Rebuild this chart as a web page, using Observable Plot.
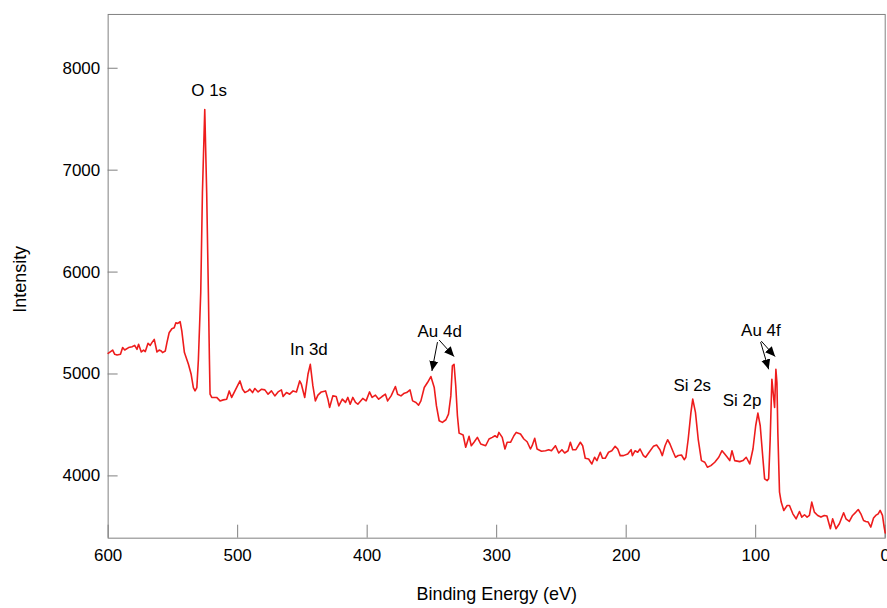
<!DOCTYPE html>
<html><head><meta charset="utf-8">
<script src="https://cdn.jsdelivr.net/npm/d3@7"></script>
<script src="https://cdn.jsdelivr.net/npm/@observablehq/plot@0.6"></script>
<style>html,body{margin:0;padding:0;background:#fff;overflow:hidden;}</style>
</head><body><div id="chart"></div>
<script>
const energy = [600,596.5,594.9,593.1,590.5,588.8,587.2,584.2,581.5,579.5,577.7,576.5,574.4,572.6,571.3,569.2,567.5,566.2,564.4,562.3,560.6,559.0,558.0,555.9,554.6,552.9,550.8,549.0,547.7,546.2,544.4,543.1,541.1,538.0,535.9,534.2,532.9,531.5,530.3,528.5,527.2,525.4,523.9,522.6,521.8,521.3,520.0,516.2,513.6,511.1,508.5,506.5,504.6,502.1,498.2,496.2,494.4,491.9,490.6,488.5,486.7,484.2,481.5,479.0,476.5,473.9,471.3,468.8,466.2,464.9,462.3,459.8,457.2,454.6,452.1,450.8,448.2,445.7,443.9,441.9,440.0,438.0,435.4,432.1,430.3,429.0,426.5,423.9,421.9,419.2,416.7,414.9,413.1,411.1,409.0,407.2,403.4,400.8,398.2,396.2,393.6,391.1,388.5,385.9,384.2,381.5,378.2,376.5,373.9,371.3,369.5,366.9,364.9,362.3,360.3,358.5,355.9,353.4,350.8,348.2,346.5,344.4,341.9,339.2,337.2,335.4,334.2,332.9,331.6,330.3,329.0,325.9,323.9,321.3,319.6,317.5,314.9,312.3,308.5,305.9,303.4,301.3,299.6,298.3,295.7,293.6,291.9,289.3,286.7,284.9,281.6,279.0,276.5,273.9,272.6,270.6,268.8,265.4,262.3,259.8,257.7,254.6,252.1,249.6,247.5,244.9,243.1,241.3,238.8,235.4,233.6,231.6,229.0,226.5,224.4,222.6,220.0,218.3,216.2,213.6,211.1,208.5,206.5,204.6,202.1,198.8,196.2,195.2,193.1,191.1,189.3,186.7,185.0,182.3,179.0,176.5,173.9,172.1,170.0,168.0,166.2,163.6,161.9,159.8,157.3,155.2,153.9,152.1,150.0,148.6,146.5,144.4,141.9,139.3,137.3,134.6,131.6,128.5,126.0,123.9,121.9,120.0,118.3,116.2,112.3,109.8,107.3,104.6,102.1,100.0,98.3,96.5,94.4,93.1,91.1,90.0,88.8,87.5,86.5,85.4,84.4,83.6,82.9,81.6,80.3,78.3,75.7,73.9,71.3,68.8,66.2,64.4,62.3,60.3,58.5,56.7,54.7,52.1,49.6,47.0,45.0,42.3,40.6,38.0,35.4,32.1,30.3,27.7,25.2,22.6,20.8,18.8,16.7,15.0,13.1,11.1,9.0,7.3,5.4,3.9,2.1,0.8,0];
const intensity = [5203,5235,5193,5186,5193,5259,5235,5259,5268,5281,5242,5291,5216,5235,5220,5301,5281,5308,5340,5216,5235,5225,5210,5225,5308,5405,5444,5454,5503,5496,5513,5421,5210,5095,4997,4867,4834,4867,5144,5799,6777,7596,6777,5799,5144,4802,4770,4770,4736,4746,4753,4834,4770,4834,4932,4851,4818,4834,4851,4818,4858,4824,4851,4844,4802,4834,4785,4824,4844,4779,4818,4802,4834,4824,4932,4900,4770,4997,5095,4883,4736,4792,4824,4834,4753,4672,4785,4779,4687,4753,4721,4770,4704,4770,4721,4704,4760,4736,4824,4770,4792,4753,4779,4802,4736,4785,4877,4802,4785,4812,4818,4844,4736,4721,4694,4736,4867,4916,4975,4867,4687,4541,4525,4551,4606,4785,5079,5095,4883,4590,4420,4401,4281,4388,4296,4330,4378,4313,4296,4362,4378,4394,4378,4427,4378,4264,4330,4330,4394,4427,4411,4362,4335,4264,4296,4369,4264,4242,4247,4257,4247,4296,4225,4257,4225,4247,4330,4257,4257,4330,4296,4173,4166,4117,4183,4150,4232,4173,4173,4232,4247,4290,4264,4199,4199,4215,4257,4199,4247,4232,4264,4199,4183,4232,4290,4303,4257,4199,4296,4355,4313,4232,4183,4200,4205,4159,4183,4362,4623,4753,4623,4362,4150,4134,4085,4101,4134,4183,4247,4215,4183,4150,4247,4150,4140,4150,4183,4117,4264,4492,4616,4492,4166,3971,3954,3971,4362,4949,4818,4672,5046,4916,4427,3841,3743,3661,3709,3709,3628,3579,3651,3596,3619,3596,3612,3743,3645,3612,3596,3612,3606,3482,3579,3482,3530,3638,3579,3553,3612,3645,3670,3628,3563,3553,3547,3498,3586,3612,3628,3661,3612,3498,3440];
const xTicks = [600, 500, 400, 300, 200, 100, 0];
const yTicks = [4000, 5000, 6000, 7000, 8000];
const peakLabels = ["O 1s", "In 3d", "Au 4d", "Si 2s", "Si 2p", "Au 4f"];
const peakLabelX = [522, 445, 344, 149, 110.5, 96];
const peakLabelY = [7785, 5242, 5418, 4890, 4743, 5428];
const arrowFromX = [345.7, 344.4, 96.2, 95.7];
const arrowFromY = [5313, 5333, 5313, 5323];
const arrowToX = [350.0, 332.9, 90.0, 85.0];
const arrowToY = [5030, 5171, 5046, 5171];
const xLabel = "Binding Energy (eV)";
const yLabel = "Intensity";

const spectrum = energy.map((e, i) => ({energy: e, intensity: intensity[i]}));
const peaks = peakLabels.map((t, i) => ({text: t, x: peakLabelX[i], y: peakLabelY[i]}));
const arrows = arrowFromX.map((x, i) => ({x1: x, y1: arrowFromY[i], x2: arrowToX[i], y2: arrowToY[i]}));

const font = "'Liberation Sans', Arial, Helvetica, sans-serif";
const svg = Plot.plot({
  width: 890, height: 608,
  marginLeft: 108, marginRight: 2.3, marginTop: 14, marginBottom: 68.5,
  style: {fontFamily: font, fontSize: "17px", color: "#000", background: "#fff", overflow: "visible"},
  x: {domain: [600, 0], label: null},
  y: {domain: [3389, 8528], label: null},
  marks: [
    Plot.frame({stroke: "#808080", strokeWidth: 1}),
    Plot.axisX(xTicks, {tickSize: -13, tickPadding: 24, stroke: "#808080", label: null, fontSize: 17, tickFormat: d => String(d)}),
    Plot.axisY(yTicks, {tickSize: -10, tickPadding: 18, stroke: "#808080", label: null, fontSize: 17, tickFormat: d => String(d)}),
    Plot.line(spectrum, {x: "energy", y: "intensity", stroke: "#ee1c1c", strokeWidth: 1.6}),
    Plot.link(arrows, {x1: "x1", y1: "y1", x2: "x2", y2: "y2", stroke: "#000", strokeWidth: 1, markerEnd: "arrow"}),
    Plot.text(peaks, {x: "x", y: "y", text: "text", fontSize: 17, fill: "#000"}),
    Plot.text([xLabel], {frameAnchor: "bottom", lineAnchor: "middle", textAnchor: "middle", dy: 56.5, text: d => d, fontSize: 18, fill: "#000"}),
    Plot.text([yLabel], {frameAnchor: "left", lineAnchor: "middle", textAnchor: "middle", dx: -88, dy: 3, rotate: -90, text: d => d, fontSize: 18, fill: "#000"})
  ]
});
d3.select(svg).selectAll("marker").each(function() {
  const m = d3.select(this);
  const color = m.attr("stroke") || "#000";
  m.attr("viewBox", "-10 -5 10 10").attr("markerWidth", 10).attr("markerHeight", 10)
   .attr("markerUnits", "userSpaceOnUse").attr("fill", color).attr("stroke", "none");
  m.selectAll("*").remove();
  m.append("path").attr("d", "M-10,-4.5L0,0L-10,4.5Z");
});
document.getElementById("chart").appendChild(svg);
</script>
</body></html>
